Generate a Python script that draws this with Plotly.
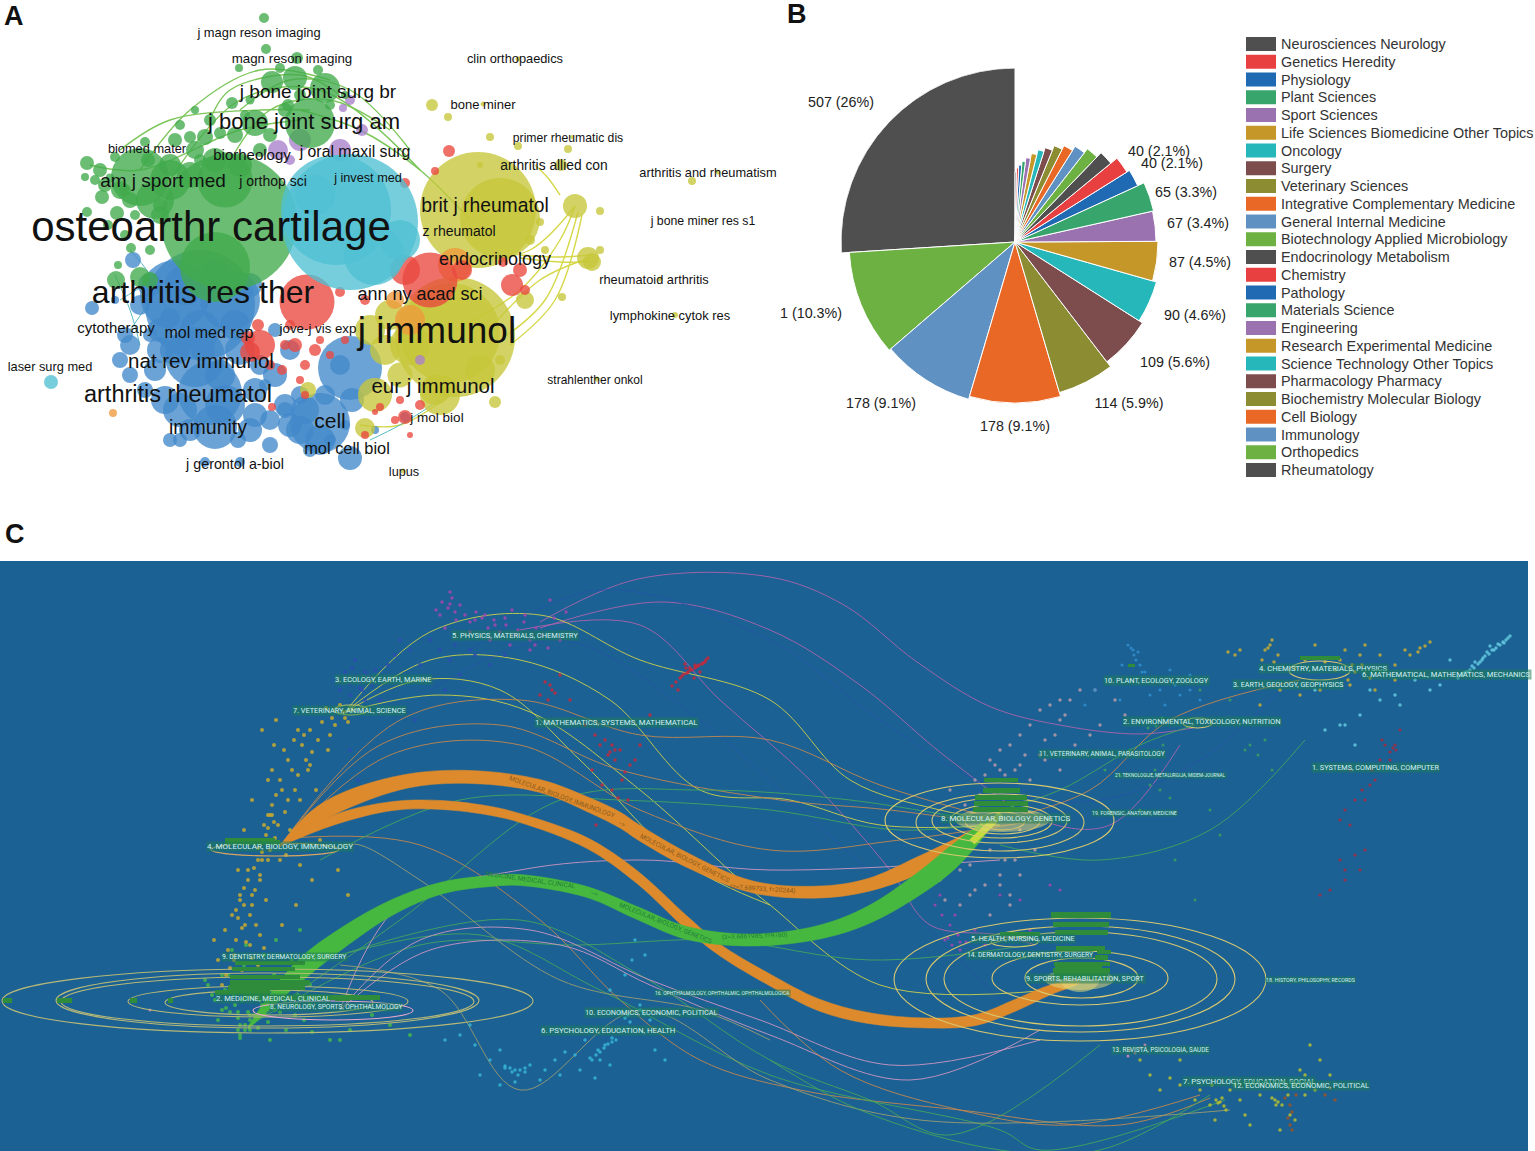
import plotly.graph_objects as go

W, H = 1535, 1151
FONT = "Liberation Sans"
LABEL_FONT = "Roboto, Liberation Sans"

# ---------------- Panel A: journal co-citation bubbles ----------------
green_x = [229,215,310,325,295,272,280,264,266,297,239,140,170,225,255,232,205,175,145,87,100,115,102,87,117,131,116,140,150,190,220,260,200,85,125,160,245,180,110,135,288,318,250,155,120,105,95,130,148,170,195,210,235,240,270,285,300,330,345,215,190,160,125,108,118,150,195]
green_y = [222,267,123,88,78,82,68,18,49,58,68,177,180,180,123,103,137,140,142,163,170,157,197,212,213,248,280,277,280,137,133,150,160,177,190,205,115,125,178,215,105,70,100,200,190,185,180,200,160,165,150,120,135,165,135,110,95,105,95,160,175,215,235,225,265,250,110]
green_d = [136,70,50,30,24,22,10,10,10,12,8,58,40,55,26,12,16,14,10,14,14,10,14,10,14,10,18,20,16,12,12,14,12,8,12,14,10,10,9,10,12,10,9,38,18,14,10,16,14,22,18,12,16,24,14,14,12,10,8,24,26,18,10,10,8,10,8]
cyan_x = [350,336,374,51,315,400]
cyan_y = [222,210,255,382,195,240]
cyan_d = [136,110,60,14,40,40]
yellow_x = [478,500,455,450,575,588,592,432,448,490,518,568,561,692,600,600,562,525,495,365,308,435,400,390,540,518,483,706,660,675,597,403,718,572,480,410,385,370,375,440,480,545,530,500]
yellow_y = [210,218,337,333,206,258,262,105,117,137,146,149,165,181,211,250,297,300,402,428,390,390,375,315,222,59,104,220,279,315,379,471,172,137,165,345,350,330,395,395,370,250,240,360]
yellow_d = [116,80,120,100,24,22,18,12,8,8,8,8,12,8,8,8,8,18,12,20,16,30,25,30,8,5,5,4,5,6,5,5,5,4,6,40,30,30,34,40,30,8,10,10]
red_x = [307,430,405,260,512,520,449,405,435,405,365,295,305,272,462,503,525,340,365,282,248,258,420,300,285,315,330,290,270,305,320,345,250,380,400,375,395,410]
red_y = [302,280,270,345,285,270,151,183,171,417,435,345,365,407,270,262,290,292,300,370,338,325,405,380,345,350,355,325,365,395,340,340,352,407,400,412,420,435]
red_d = [55,55,30,30,22,14,12,10,8,14,8,14,10,8,20,10,10,10,10,10,14,12,10,8,10,12,8,10,10,8,8,8,20,8,8,6,8,6]
blue_x = [200,175,230,350,320,210,195,215,180,240,275,160,130,120,92,115,133,290,255,270,300,350,205,240,180,300,340,275,238,203,352,405,130,265,150,310,330,220,170,155,165,145,190,225,255,285,160,175,200,235,260,290,320,250,170,270,305,325,140,125,185,150,215,250,285,345,375]
blue_y = [305,295,300,368,423,393,357,427,410,350,375,350,345,360,308,300,260,425,415,445,430,458,462,462,440,395,365,330,440,350,400,417,375,385,335,450,440,375,318,370,400,390,430,405,390,405,330,350,330,325,365,350,440,430,440,420,410,395,305,335,285,285,275,285,410,425,430]
blue_d = [110,70,60,64,60,64,60,44,34,30,24,26,20,16,14,8,16,24,24,16,28,24,10,10,14,18,20,14,16,24,24,10,16,12,14,14,12,30,20,22,28,16,22,40,24,22,24,30,40,30,20,20,30,24,14,20,28,20,20,16,40,24,30,24,16,10,8]
purple_x = [350,343,300,340,278,290,362,420]
purple_y = [100,108,140,150,150,160,130,360]
purple_d = [10,8,22,22,20,10,12,10]
orange_x = [113,410,455,395]
orange_y = [413,320,265,300]
orange_d = [8,30,34,18]

link_green = [
    ([140,190,260,330],[170,110,70,80]), ([170,240,320,420],[180,100,90,170]),
    ([225,270,330,390],[170,110,100,130]), ([90,140,240,300],[165,170,130,120]),
    ([300,360,420,470],[110,130,170,220]), ([240,290,350,410],[110,80,90,150]),
    ([210,230,300,340],[120,90,75,95]), ([120,170,260,310],[150,120,110,110]),
]
link_yellow = [
    ([455,520,560,575],[330,290,240,206]), ([475,530,575],[260,250,206]),
    ([480,540,590],[340,280,258]), ([520,560,590],[258,262,262]),
    ([520,560,590],[255,257,255]), ([560,548,535],[195,178,165]),
    ([360,400,450],[425,425,395]), ([500,545,578],[340,300,212]), ([510,555,582],[345,300,215]),
]
link_teal = [
    ([115,130,140],[275,310,345]), ([130,150,175],[250,275,330]),
    ([370,400,440],[440,425,400]), ([120,160,130],[300,280,330]),
]

labels_a = ["osteoarthr cartilage","j immunol","arthritis res ther","j bone joint surg am","j bone joint surg br","arthritis rheumatol","nat rev immunol","endocrinology","brit j rheumatol","eur j immunol","cell","immunity","mol cell biol","ann ny acad sci","am j sport med","biomed mater","biorheology","j oral maxil surg","j orthop sci","j invest med","z rheumatol","cytotherapy","mol med rep","jove-j vis exp","laser surg med","j mol biol","j gerontol a-biol","lupus","strahlenther onkol","lymphokine cytok res","rheumatoid arthritis","j bone miner res s1","arthritis and rheumatism","arthritis allied con","primer rheumatic dis","bone miner","clin orthopaedics","magn reson imaging","j magn reson imaging"]
labels_a_x = [211,437,203,304,318,178,201,495,485,433,330,208,347,420,163,147,252,355,273,368,459,116,209,318,50,437,235,404,595,670,654,703,708,554,568,483,515,292,259]
labels_a_y = [230,334,295,123,93,396,363,260,207,388,423,429,450,295,182,150,156,153,182,179,232,329,334,330,368,419,465,473,381,317,281,222,174,167,139,106,60,60,34]
labels_a_s = [42,37,32,22,19,23.5,20.5,18,19.3,20.5,21,19.5,16.4,18,19,12.8,15,15.8,14,12.7,14,15,16,13.3,12.8,13.5,14.3,12.7,12,12.9,12.8,12.3,12.8,13.8,12.2,13,12.8,13.3,12.9]

# ---------------- Panel B: research categories ----------------
categories = ["Rheumatology","Orthopedics","Immunology","Cell Biology","Biochemistry Molecular Biology","Pharmacology Pharmacy","Science Technology Other Topics","Research Experimental Medicine","Engineering","Materials Science","Pathology","Chemistry","Endocrinology Metabolism","Biotechnology Applied Microbiology","General Internal Medicine","Integrative Complementary Medicine","Veterinary Sciences","Surgery","Oncology","Life Sciences Biomedicine Other Topics","Sport Sciences","Plant Sciences","Physiology","Genetics Heredity","Neurosciences Neurology"]
counts = [507,201,178,178,114,109,90,87,67,65,40,40,36,33,31,28,26,24,20,19,17,13,12,9,6]
spoke = [174,166,164,161,157,151,147,143,141,142,135,132,124,118,113,108,104,99,95,90,85,81,77,74,70]
colors_b = (["#4f4f4f","#6cb142","#6091c3","#e96825","#8c8c33","#7d4c4c","#25b7b9","#c59728","#9b72b0","#38a56c","#2069b3","#e84040"] * 3)[:25]
pie_text = ["507 (26%)","40 (2.1%)","40 (2.1%)","65 (3.3%)","67 (3.4%)","87 (4.5%)","90 (4.6%)","109 (5.6%)","114 (5.9%)","178 (9.1%)","178 (9.1%)","1 (10.3%)"]
pie_text_x = [841,1159,1172,1186,1198,1200,1195,1175,1129,1015,881,811]
pie_text_y = [103,152,164,193,224,263,316,363,404,427,404,314]
PIE_CX, PIE_CY, PIE_R = 1015, 242, 174

# ---------------- Panel C: dual-map overlay ----------------
band_top_x = [280,310,344,408,471,540,589,620,638,687,753,820,868,917,957,986]
band_top_y = [846,820,801,781,777,786,805,820,832,860,887,892,885,866,847,826]
band_top_w = [1,16,18,14,13,13,15,16,16,15,12,12,13,18,18,4]
band_low_x = [280,334,393,442,491,520,587,637,687,720,770,819,868,927,976,1016,1050,1080]
band_low_y = [846,820,806,805,811,818,843,877,923,950,980,1005,1018,1023,1020,1005,990,981]
band_low_w = [1,10,9,9,9,9,11,13,14,12,12,12,11,10,11,12,10,3]
band_med_x = [248,295,344,393,442,491,520,587,637,687,753,820,868,917,957,991]
band_med_y = [1028,975,937,907,888,881,880,892,913,933,940,932,915,885,854,822]
band_med_w = [3,24,22,16,12,11,11,11,13,13,12,14,18,24,26,6]
band_tip_x = [972,1001]
band_tip_y = [842,814]

thin_colors = {"purple":"#b565b0","yellow":"#d8d848","orange":"#cc8a4c","green":"#46a95c","pink":"#d99ac5","navy":"#2456a8","khaki":"#a0a070"}
thin_paths = [
 ("purple",[540,638,770,844,917,991,1065,1139,1193],[622,579,577,605,662,707,726,734,728]),
 ("purple",[540,663,770,860,950,1040,1110,1180],[628,602,630,685,760,820,825,745]),
 ("purple",[520,640,720,810,890,930,1000,1035],[630,625,700,780,870,925,935,945]),
 ("navy",[470,600,770,880,1000,1100,1200,1290],[650,590,640,720,790,800,760,680]),
 ("navy",[430,560,700,790,900,1000],[690,640,720,800,900,1000]),
 ("yellow",[345,430,540,640,770,850,940,1000],[712,632,615,660,700,780,810,820]),
 ("yellow",[345,430,520,610,700,790,880,1000],[712,660,660,700,790,800,825,825]),
 ("yellow",[345,440,530,640,740,770,880,1050],[712,695,712,790,880,905,985,990]),
 ("yellow",[345,420,500,580,680,770],[712,680,690,760,860,905]),
 ("orange",[280,400,520,640,770,880,1000],[846,720,700,735,740,785,820]),
 ("orange",[280,380,500,620,780,890,1000],[846,745,725,770,800,810,825]),
 ("orange",[280,390,520,640,770,900,1040],[846,755,745,810,850,840,820]),
 ("orange",[290,420,540,620,700,800,960,1120,1210],[838,845,920,1000,1060,1090,1110,1125,1098]),
 ("orange",[1000,1090,1170,1300],[820,790,720,680]),
 ("green",[320,460,620,770,900,1000],[860,800,800,810,830,822]),
 ("green",[250,400,560,700,850,1000],[1025,920,800,790,800,825]),
 ("green",[250,420,580,720,870,1030],[1025,945,945,940,960,945]),
 ("green",[340,520,640,770,870,950,1100],[955,920,975,1060,1100,1135,1045]),
 ("green",[340,480,600,770,1000,1040,1225],[955,935,990,1075,1130,1150,1100]),
 ("green",[1000,1100,1210,1305],[845,860,830,740]),
 ("green",[1000,1060,1140,1195],[810,790,745,725]),
 ("pink",[340,420,530,650,760,890,1040],[1010,940,930,980,1020,1065,1040]),
 ("pink",[340,430,560,650,770,910,1040],[1010,950,945,985,1035,1080,1030]),
 ("pink",[340,400,520,640,770,1000],[1010,905,870,860,870,860]),
 ("khaki",[340,440,520,640,770,920,1230],[965,990,1090,1010,1080,1120,1110]),
 ("khaki",[340,360,420,560,700,770],[845,845,880,980,1010,1040]),
 ("orange",[760,840,960,1070,1200],[1000,1070,1110,1125,1095]),
 ("green",[770,860,1000,1100,1210],[1060,1110,1150,1150,1095]),
]

# point clouds
yellow_pts_x = [345,340,335,330,322,318,312,306,302,298,295,292,288,285,282,278,275,272,270,268,262,260,258,255,252,248,245,240,236,232,228,225,300,308,316,328,290,280,266,250,242,300,312,286,270,258,246,234,268,274,262,252,244,238,296,282,320,338,348,352,264,268,272,276,266,270,274,262,258,254,248,244,240,236,250,256,260,264,252,246,242,238,234,230,272,280,288,294,304,310,284,276,268,260,252,244,226,222,218,214,348,344,332,326,310,298]
yellow_pts_y = [718,705,725,735,722,740,752,760,745,775,790,770,800,812,790,825,838,815,850,828,860,875,848,890,905,870,925,895,940,915,950,930,800,770,790,750,830,860,900,945,970,865,880,855,815,965,985,960,780,745,730,800,830,870,905,925,840,870,895,710,825,815,805,795,835,840,822,852,860,868,880,888,900,910,915,925,935,948,958,942,928,918,955,968,770,780,760,740,735,730,750,720,860,880,895,905,975,985,960,940,722,712,718,708,765,730]
green_pts_x = [208,215,222,228,234,238,244,250,256,262,268,274,280,286,292,298,304,310,218,226,240,248,258,270,282,296,312,330,350,372,390,410,232,246,264,276,300,320,340,242,254,238,266,282,225,235,245,255,265,275,230,240,250,260,270,222,212,205,285,295,310,250,245,240,238]
green_pts_y = [985,1000,1010,975,995,1018,965,1030,990,1005,1022,975,1012,1030,960,995,1020,985,1020,1008,1035,1012,1028,1040,980,1005,1032,1040,1030,1015,1025,1035,950,945,955,940,930,945,1040,1000,1015,1030,1000,990,990,1005,1025,1020,1015,1010,1012,1025,1015,1000,990,975,995,980,1000,1015,1005,1020,1030,1038,1012]
blue_pts_x = [335,345,352,360,368,375,340,350,362,372,380,388,395,410,430,450,470,490,355,365,420,400,460,445,415,350,358,345,355,365,350,360,370,440,455,475,505]
blue_pts_y = [680,672,668,682,675,670,690,695,690,685,700,665,655,650,640,660,650,665,660,700,665,640,675,690,720,750,780,678,676,672,684,688,678,650,645,655,655]
magenta_pts_x = [436,442,448,452,456,460,465,470,476,482,488,494,500,506,512,518,524,530,536,542,548,554,560,450,470,490,510,530,445,550,566,440,450,455,475,485,495,505,515,525,535]
magenta_pts_y = [610,602,608,598,620,605,615,622,612,618,628,620,632,625,610,630,622,640,628,635,648,618,640,592,632,640,645,650,628,600,612,615,604,612,620,615,625,618,635,615,645]
red_pts_x = [708,705,702,698,695,692,688,684,680,676,672,700,694,686,678,545,552,560,548,540,570,585,595,600,605,610,615,620,625,630,592,602,612,622,618,635,640,628,650,610,596,590,640,706,703,699,696,690,687,682,695,690,685,550,555,615,612,608]
red_pts_y = [658,662,664,666,668,670,672,674,678,682,686,672,678,668,690,682,690,675,700,695,700,725,735,745,740,752,760,750,772,765,770,785,790,780,798,760,745,800,715,820,825,805,835,660,663,665,667,670,673,676,665,668,664,685,693,750,745,755]
cyan_pts_x = [445,460,475,490,505,512,518,525,530,545,555,565,575,590,598,605,612,620,628,600,610,585,470,500,540,560,620,640,650,645,632,610,625,635,655,665,590,480,500,515,580,595,600,604,608,612,616,596,592,510,515,520,525,505,640,645,625,630]
cyan_pts_y = [1040,1035,1045,1060,1068,1072,1075,1072,1065,1070,1060,1052,1055,1058,1050,1045,1038,1030,1015,1060,1065,1040,1025,1050,1080,1075,1012,1005,1020,955,960,990,975,940,1050,1060,1030,1075,1085,1082,1070,1078,1052,1048,1044,1042,1040,1055,1060,1068,1070,1070,1068,1066,1010,1014,1018,1022]
pale_pts_x = [950,965,980,990,1000,1010,1020,1030,1040,1050,1060,1070,1080,1090,1100,1075,1060,1045,1030,1015,1000,985,970,955,940,945,960,975,990,1005,1020,1035,1010,990,975,1000,1020,1040,1060,1095,1115,1125,1005,1015,1025,985,995,1045,1055,1065,960,970,1000,1010,1020]
pale_pts_y = [790,805,795,760,750,745,735,725,710,705,720,700,690,735,725,745,770,760,780,860,875,885,865,855,880,900,905,890,915,860,830,850,905,850,780,770,765,755,700,690,700,715,775,770,755,775,765,740,735,715,870,895,885,895,875]
magenta2_pts_x = [935,942,950,958,966,975,985,960,945,940,1000,1050,1020,1060,955,1030,948,952,960]
magenta2_pts_y = [905,915,925,935,942,930,945,950,940,895,895,885,900,890,915,930,938,945,942]
upper_y_pts_x = [1228,1235,1240,1262,1268,1272,1278,1295,1305,1315,1325,1335,1345,1355,1362,1370,1380,1395,1405,1420,1430,1395,1375,1350,1320,1300,1280,1260,1365,1340,1265,1270,1274,1360,1352,1348,1410,1418,1425]
upper_y_pts_y = [652,655,650,660,648,640,655,668,660,645,662,670,650,672,665,678,655,665,650,648,642,680,690,685,690,695,690,705,645,660,650,645,662,655,665,680,655,652,646]
upper_c_pts_x = [1510,1506,1503,1500,1496,1492,1489,1485,1482,1478,1474,1470,1466,1462,1458,1490,1475,1450,1440,1430,1415,1395,1380,1370,1360,1345,1325,1315,1355,1340,1400,1508,1504,1498,1494,1487,1483,1480,1472,1468,1464]
upper_c_pts_y = [636,640,642,645,648,650,654,656,660,664,668,670,672,675,678,646,662,660,685,690,680,695,700,690,715,725,730,690,745,725,705,638,643,644,650,652,658,662,666,672,673]
bright_blue_x = [1128,1133,1136,1140,1122,1145,1110,1095,1155,1170,1180,1190,1200,1085,1120,1150,1165,1175,1130,1190,1131,1134,1138,1142,1160]
bright_blue_y = [645,650,660,665,665,672,680,690,680,670,695,690,700,705,700,695,705,685,680,675,648,655,652,672,690]
green2_x = [1150,1160,1170,1155,1163,1120,1130,1250,1258,1265,1245,1272,1210,1220,1230,1200,1105,1140,1175,1195,1150,1156,1162,1148]
green2_y = [785,790,798,770,745,775,750,745,755,740,750,770,810,835,700,690,770,810,860,900,722,726,718,728]
red2_x = [1400,1395,1390,1380,1362,1350,1365,1340,1390,1375,1355,1345,1372,1350,1340,1385,1345,1370,1360,1355,1365,1330,1320,1382,1345,1393,1396]
red2_y = [730,745,752,760,790,770,800,820,760,780,800,810,770,825,860,745,880,785,870,855,850,890,895,740,870,748,750]
lower_y_pts_x = [1130,1140,1150,1160,1170,1180,1195,1210,1218,1222,1226,1235,1245,1260,1275,1282,1288,1295,1305,1315,1200,1180,1250,1280,1300,1290,1240,1212,1230,1215,1320,1330,1310,1305,1295,1220,1224,1216,1272,1278,1276]
lower_y_pts_y = [1050,1060,1075,1090,1078,1085,1100,1105,1103,1098,1110,1085,1115,1095,1100,1105,1095,1085,1075,1090,1090,1060,1125,1130,1070,1115,1100,1085,1090,1120,1060,1075,1045,1095,1120,1102,1106,1100,1098,1102,1105]
brown_x = [1290,1292,1288,1285,1296,1325,1330,1335,1290,1292]
brown_y = [1105,1112,1118,1098,1095,1095,1088,1100,1125,1130]
magenta3_x = [1130,1135,1128,1140,1145,150]
magenta3_y = [1050,1053,1056,1048,1045,1010]

clouds = [
 (green_pts_x, green_pts_y, "#45b74a", 4), (yellow_pts_x, yellow_pts_y, "#c9a92f", 4),
 (blue_pts_x, blue_pts_y, "#2a4fb0", 4), (magenta_pts_x, magenta_pts_y, "#a545b0", 3.5),
 (red_pts_x, red_pts_y, "#c7283c", 3.5), (cyan_pts_x, cyan_pts_y, "#36b6d6", 3.5),
 (pale_pts_x, pale_pts_y, "#b89aa8", 3.5), (magenta2_pts_x, magenta2_pts_y, "#a545b0", 3.2),
 (upper_y_pts_x, upper_y_pts_y, "#c9ad30", 3.5), (upper_c_pts_x, upper_c_pts_y, "#62c9e0", 3.5),
 (bright_blue_x, bright_blue_y, "#2f8fd0", 3.2), (green2_x, green2_y, "#3aa060", 3),
 (red2_x, red2_y, "#a8283f", 3.2), (lower_y_pts_x, lower_y_pts_y, "#b8c030", 3.5),
 (brown_x, brown_y, "#9a5528", 3.5), (magenta3_x, magenta3_y, "#d58bb5", 3),
]

ell_left = [2,56,61,128,165,253,211,334,885,916,932,950,965,980,894,926,944,992,1025,1289,1183,991]
ell_right = [533,479,474,408,373,413,339,368,1114,1084,1067,1052,1040,1025,1266,1235,1217,1168,1138,1350,1212,1038]
ell_top = [969,973,977,986,990,1001,843,705,783,794,798,804,808,812,918,926,932,951,958,661,718,937]
ell_bot = [1033,1028,1026,1017,1015,1020,856,715,858,851,843,838,834,830,1041,1032,1026,1005,998,680,728,947]
ell_col = ["#b6b878"]*5 + ["#e8a8cc","#d8a860","#d8d060"] + ["#d8c870"]*14

blob_x0 = [1045,1060,955]
blob_x1 = [1114,1100,1050]
blob_y0 = [969,965,808]
blob_y1 = [990,992,832]

tag_x0 = [235,232,230,230,228,215,243,335,984,983,975,974,973,1051,1053,1055,1056,1053,1054,1055,1000,1097,1095,1054,1300,1128,225,225,3,57,130,168]
tag_x1 = [305,295,300,310,305,270,380,350,1018,1020,1027,1028,1028,1111,1109,1108,1105,1110,1108,1102,1040,1111,1108,1110,1340,1135,280,275,12,72,137,173]
tag_y0 = [961,967,975,980,985,990,995,995,778,788,795,801,807,912,922,930,946,968,972,964,932,950,955,962,656,664,840,838,998,998,998,998]
tag_y1 = [965,971,979,985,990,995,1000,1001,782,793,800,806,812,918,927,935,951,973,979,968,936,954,960,966,660,667,845,843,1003,1003,1003,1003]

labels_c = ["5. PHYSICS, MATERIALS, CHEMISTRY","3. ECOLOGY, EARTH, MARINE","7. VETERINARY, ANIMAL, SCIENCE","1. MATHEMATICS, SYSTEMS, MATHEMATICAL","4. MOLECULAR, BIOLOGY, IMMUNOLOGY","9. DENTISTRY, DERMATOLOGY, SURGERY","2. MEDICINE, MEDICAL, CLINICAL","8. NEUROLOGY, SPORTS, OPHTHALMOLOGY","16. OPHTHALMOLOGY, OPHTHALMIC, OPHTHALMOLOGICA","10. ECONOMICS, ECONOMIC, POLITICAL","6. PSYCHOLOGY, EDUCATION, HEALTH","10. PLANT, ECOLOGY, ZOOLOGY","4. CHEMISTRY, MATERIALS, PHYSICS","3. EARTH, GEOLOGY, GEOPHYSICS","6. MATHEMATICAL, MATHEMATICS, MECHANICS","2. ENVIRONMENTAL, TOXICOLOGY, NUTRITION","11. VETERINARY, ANIMAL, PARASITOLOGY","21. TEKNOLOGIJE, METALURGIJA, MIDEM-JOURNAL","1. SYSTEMS, COMPUTING, COMPUTER","8. MOLECULAR, BIOLOGY, GENETICS","19. FORENSIC, ANATOMY, MEDICINE","5. HEALTH, NURSING, MEDICINE","14. DERMATOLOGY, DENTISTRY, SURGERY","9. SPORTS, REHABILITATION, SPORT","18. HISTORY, PHILOSOPHY, RECORDS","13. REVISTA, PSICOLOGIA, SAUDE","7. PSYCHOLOGY, EDUCATION, SOCIAL","12. ECONOMICS, ECONOMIC, POLITICAL"]
labels_c_x = [515,383,349,616,280,284,273,336,722,651,608,1156,1323,1288,1446,1202,1102,1170,1375,1005,1134,1023,1030,1085,1310,1160,1249,1301]
labels_c_y = [635,679,710,722,846,957,998,1007,993,1012,1030,680,668,684,674,721,754,775,767,818,813,938,955,978,980,1050,1081,1085]
labels_c_s = [7.5,7.4,7.3,7.8,8,6.8,7.6,6.7,5,7.3,7.8,7.3,7.7,7.2,7.6,7.5,6.6,4.7,7.3,7.9,5.2,7.2,6.7,7.2,5.3,6.4,7.8,7.5]

band_words = ["MOLECULAR, BIOLOGY, IMMUNOLOGY","-->","MOLECULAR, BIOLOGY, GENETICS","(z=7.689733, f=20244)",
              "MEDICINE, MEDICAL, CLINICAL","-->","MOLECULAR, BIOLOGY, GENETICS","(z=3.6861985, f=9780)"]
band_words_x = [562,622,684,763,530,595,665,755]
band_words_y = [797,824,858,889,880,894,923,936]
band_words_r = [20,30,27,4,8,20,22,-2]
band_words_c = ["#8a5a1c"]*4 + ["#1f7f3a"]*4

fig = go.Figure()
COMMON = dict(xaxis="x", yaxis="y", hoverinfo="skip", showlegend=False, cliponaxis=False)

for group, col, w in ((link_green,"#7cc65a",1.4),(link_yellow,"#d6d84a",1.4),(link_teal,"#5bbcc6",1)):
    for xs, ys in group:
        fig.add_trace(go.Scatter(x=xs, y=ys, mode="lines", line=dict(color=col, width=w, shape="spline"), **COMMON))
for xs, ys, ds, col in ((blue_x,blue_y,blue_d,"#4289ca"),(yellow_x,yellow_y,yellow_d,"#c7c73a"),
                        (orange_x,orange_y,orange_d,"#ee9a3c"),(red_x,red_y,red_d,"#e9483f"),
                        (purple_x,purple_y,purple_d,"#a980cc"),(green_x,green_y,green_d,"#41ab4b"),
                        (cyan_x,cyan_y,cyan_d,"#50c0d2")):
    fig.add_trace(go.Scatter(x=xs, y=ys, mode="markers",
                             marker=dict(size=ds, sizemode="diameter", color=col, opacity=0.78, line=dict(width=0)), **COMMON))
fig.add_trace(go.Scatter(x=labels_a_x, y=labels_a_y, text=labels_a, mode="text", textposition="middle center",
                         textfont=dict(family=FONT, size=labels_a_s, color="#111111"), **COMMON))

for name, xs, ys in thin_paths:
    fig.add_trace(go.Scatter(x=xs, y=ys, mode="lines", line=dict(color=thin_colors[name], width=1, shape="spline"), opacity=0.85, **COMMON))
for xs, ys, col, sz in clouds:
    fig.add_trace(go.Scatter(x=xs, y=ys, mode="markers", marker=dict(size=sz, color=col, opacity=0.85, line=dict(width=0)), **COMMON))

def band(xs, ys, ws, col):
    up = [y - w / 2 for y, w in zip(ys, ws)]
    lo = [y + w / 2 for y, w in zip(ys, ws)]
    fig.add_trace(go.Scatter(x=xs + xs[::-1], y=up + lo[::-1], mode="lines", fill="toself", fillcolor=col,
                             line=dict(color=col, width=0.5, shape="spline"), **COMMON))

band(band_top_x, band_top_y, band_top_w, "#dd8a2c")
band(band_low_x, band_low_y, band_low_w, "#dd8a2c")
band(band_med_x, band_med_y, band_med_w, "#47b83f")
fig.add_trace(go.Scatter(x=band_tip_x, y=band_tip_y, mode="lines", line=dict(color="#c4dd3a", width=7), **COMMON))

total = sum(counts)
angles, run = [], 0
for c in counts:
    angles.append((run + c / 2) / total * 360)
    run += c
fig.add_trace(go.Barpolar(r=spoke, theta=angles, width=[c / total * 360 for c in counts],
                          marker=dict(color=colors_b, line=dict(color="white", width=1)),
                          hoverinfo="skip", showlegend=False, subplot="polar"))
fig.add_trace(go.Scatter(x=pie_text_x, y=pie_text_y, text=pie_text, mode="text",
                         textfont=dict(family=FONT, size=14.3, color="#222222"), **COMMON))

shapes = [dict(type="rect", xref="x", yref="y", x0=0, x1=1528, y0=561, y1=1151,
               fillcolor="#1b6193", line=dict(width=0), layer="below")]
for a, b, c, d in zip(blob_x0, blob_x1, blob_y0, blob_y1):
    shapes.append(dict(type="circle", xref="x", yref="y", x0=a, x1=b, y0=c, y1=d, fillcolor="rgba(225,215,120,0.55)", line=dict(width=0)))
for a, b, c, d, col in zip(ell_left, ell_right, ell_top, ell_bot, ell_col):
    shapes.append(dict(type="circle", xref="x", yref="y", x0=a, x1=b, y0=c, y1=d, line=dict(color=col, width=1.1)))
for a, b, c, d in zip(tag_x0, tag_x1, tag_y0, tag_y1):
    shapes.append(dict(type="rect", xref="x", yref="y", x0=a, x1=b, y0=c, y1=d, fillcolor="#2f8c3a", line=dict(width=0)))

ROW0, ROWH = 44, 17.75
annotations = []
for i, (name, col) in enumerate(zip(categories[::-1], colors_b[::-1])):
    yc = ROW0 + i * ROWH
    shapes.append(dict(type="rect", xref="x", yref="y", x0=1246, x1=1276, y0=yc - 7, y1=yc + 7, fillcolor=col, line=dict(width=0)))
    annotations.append(dict(x=1279, y=yc, xref="x", yref="y", text=name, showarrow=False, xanchor="left", yanchor="middle",
                            font=dict(family=FONT, size=14.4, color="#333333")))

for t, x, y, s in zip(labels_c, labels_c_x, labels_c_y, labels_c_s):
    annotations.append(dict(x=x, y=y, xref="x", yref="y", text=t, showarrow=False,
                            font=dict(family=LABEL_FONT, size=s, color="#d5f0f5"),
                            bgcolor="rgba(30,125,90,0.55)", borderpad=0))
for t, x, y, r, c in zip(band_words, band_words_x, band_words_y, band_words_r, band_words_c):
    annotations.append(dict(x=x, y=y, xref="x", yref="y", text=t, showarrow=False, textangle=r,
                            font=dict(family=LABEL_FONT, size=6.5, color=c)))
for t, x, y in (("A",14,16),("B",797,14),("C",15,534)):
    annotations.append(dict(x=x, y=y, xref="x", yref="y", text=f"<b>{t}</b>", showarrow=False,
                            font=dict(family=FONT, size=27, color="#111111")))

fig.update_layout(
    width=W, height=H, margin=dict(l=0, r=0, t=0, b=0), autosize=False,
    paper_bgcolor="white", plot_bgcolor="rgba(0,0,0,0)", showlegend=False,
    xaxis=dict(range=[0, W], visible=False, domain=[0, 1], fixedrange=True),
    yaxis=dict(range=[H, 0], visible=False, domain=[0, 1], fixedrange=True),
    polar=dict(
        domain=dict(x=[(PIE_CX - PIE_R) / W, (PIE_CX + PIE_R) / W],
                    y=[1 - (PIE_CY + PIE_R) / H, 1 - (PIE_CY - PIE_R) / H]),
        bgcolor="rgba(0,0,0,0)",
        radialaxis=dict(range=[0, PIE_R], visible=False),
        angularaxis=dict(direction="counterclockwise", rotation=90, visible=False),
    ),
    bargap=0,
    shapes=shapes, annotations=annotations,
)
fig.write_html("out.html", config=dict(displayModeBar=False),
               post_script="document.body.style.margin='0';document.documentElement.style.overflow='hidden';")
